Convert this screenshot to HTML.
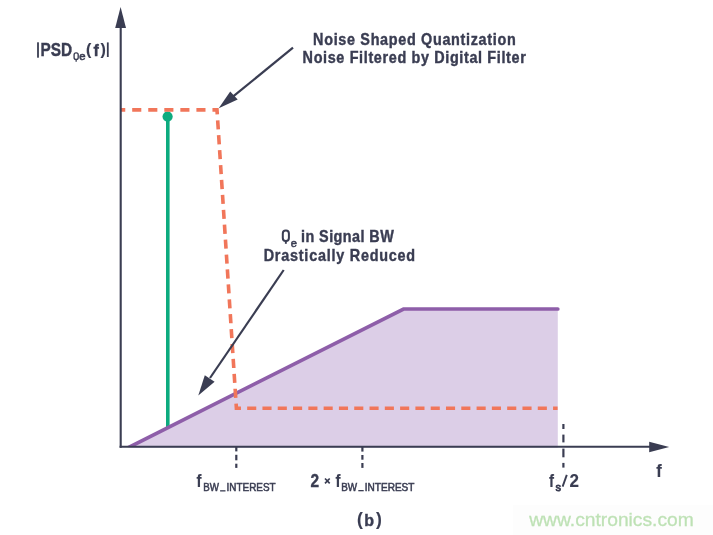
<!DOCTYPE html>
<html>
<head>
<meta charset="utf-8">
<style>
html,body{margin:0;padding:0;background:#fff;width:713px;height:535px;overflow:hidden}
svg{display:block;will-change:transform}
text{font-family:"Liberation Sans",sans-serif;fill:#3a3d52}
</style>
</head>
<body>
<svg width="713" height="535" viewBox="0 0 713 535">
<defs><clipPath id="cl"><rect x="0" y="0" width="713" height="446"/></clipPath></defs>
<!-- watermark box -->
<rect x="513" y="505" width="200" height="30" fill="#fdfdfd"/>
<!-- purple fill -->
<path d="M127.5,447.8 L403.5,309 L557.8,309 L557.8,447.8 Z" fill="#dccee7"/>
<!-- green stem -->
<line x1="167.8" y1="117" x2="167.8" y2="427.5" stroke="#0dab7f" stroke-width="3.6"/>
<!-- purple line -->
<path d="M126.74,448.4 L403.5,309 L557.8,309" fill="none" stroke="#8e5ea9" stroke-width="3.7" stroke-linejoin="miter" stroke-linecap="round" clip-path="url(#cl)"/>
<circle cx="167.6" cy="116.6" r="5.1" fill="#0dab7f"/>
<!-- orange dashed -->
<path d="M120.7,109.9 L217,109.9 L236.4,408.2 L557.6,408.2" fill="none" stroke="#f1765a" stroke-width="3.6" stroke-dasharray="4.550 6.950 9.100 6.950 9.100 6.950 9.100 6.950 9.100 6.950 9.100 6.950 9.100 5.847 9.100 5.847 9.100 5.847 9.100 5.847 9.100 5.847 9.100 5.847 9.100 5.847 9.100 5.847 9.100 5.847 9.100 5.847 9.100 5.847 9.100 5.847 9.100 5.847 9.100 5.847 9.100 5.847 9.100 5.847 9.100 5.847 9.100 5.847 9.100 5.847 9.100 5.847 9.100 6.195 9.100 6.195 9.100 6.195 9.100 6.195 9.100 6.195 9.100 6.195 9.100 6.195 9.100 6.195 9.100 6.195 9.100 6.195 9.100 6.195 9.100 6.195 9.100 6.195 9.100 6.195 9.100 6.195 9.100 6.195 9.100 6.195 9.100 6.195 9.100 6.195 9.100 6.195 9.100 6.195 4.550 1000.000" stroke-linejoin="miter"/>
<!-- axes -->
<line x1="120.7" y1="26" x2="120.7" y2="447.8" stroke="#3a3d52" stroke-width="2.1"/>
<path d="M120.6,7 L126,28 L115.2,28 Z" fill="#3a3d52"/>
<line x1="119.6" y1="446.8" x2="651" y2="446.8" stroke="#3a3d52" stroke-width="2.1"/>
<path d="M669.2,447 L649.2,452.3 L649.2,441.7 Z" fill="#3a3d52"/>
<!-- ticks -->
<g stroke="#3a3d52" stroke-width="2.2">
<line x1="236.3" y1="447" x2="236.3" y2="451.4"/>
<line x1="236.3" y1="454.8" x2="236.3" y2="460.3"/>
<line x1="236.3" y1="463.7" x2="236.3" y2="467.9"/>
<line x1="362.4" y1="447" x2="362.4" y2="451.6"/>
<line x1="362.4" y1="455" x2="362.4" y2="459.7"/>
<line x1="362.4" y1="463" x2="362.4" y2="467.9"/>
<line x1="563.4" y1="424" x2="563.4" y2="429"/>
<line x1="563.4" y1="434.6" x2="563.4" y2="442.4"/>
<line x1="563.4" y1="448.6" x2="563.4" y2="457.3"/>
<line x1="563.4" y1="462.9" x2="563.4" y2="467.6"/>
</g>
<!-- annotation arrows -->
<line x1="293" y1="47.7" x2="232" y2="97.4" stroke="#3a3d52" stroke-width="2.2"/>
<path d="M218.7,108.2 L230.2,91.5 L237.7,99.6 Z" fill="#3a3d52"/>
<line x1="283.7" y1="270" x2="210" y2="378" stroke="#3a3d52" stroke-width="2.2"/>
<path d="M198.3,395.4 L204.8,375.2 L214.6,381.7 Z" fill="#3a3d52"/>
<!-- texts -->
<g font-weight="bold" font-size="16" style="stroke:#3a3d52;stroke-width:0.4">
<text transform="translate(313.1,44.8) scale(0.9,1)" textLength="225.11" lengthAdjust="spacing">Noise Shaped Quantization</text>
<text transform="translate(302.6,62.9) scale(0.9,1)" textLength="248.00" lengthAdjust="spacing">Noise Filtered by Digital Filter</text>
<text transform="translate(301,241.9) scale(0.9,1)" textLength="103.1" lengthAdjust="spacing">in Signal BW</text>
<text transform="translate(263.7,260.6) scale(0.9,1)" textLength="168.3" lengthAdjust="spacing">Drastically Reduced</text>
<text x="40.6" y="56" font-size="18" textLength="31.6" lengthAdjust="spacingAndGlyphs">PSD</text>
<text x="93.5" y="55.9">f</text>
<text x="364.2" y="525.6">b</text>
</g>
<g font-weight="bold" font-size="17.8" style="stroke:#3a3d52;stroke-width:0.15">
<text x="196.6" y="486.7" textLength="5" lengthAdjust="spacingAndGlyphs">f</text>
<text x="310.6" y="486.7" textLength="8.6" lengthAdjust="spacingAndGlyphs" style="stroke-width:0.4">2</text>
<text x="335.6" y="486.7" textLength="5" lengthAdjust="spacingAndGlyphs">f</text>
<text x="549" y="486.7" textLength="5" lengthAdjust="spacingAndGlyphs">f</text>
<text x="569.4" y="486.7" textLength="9.47" lengthAdjust="spacingAndGlyphs">2</text>
<text x="656.3" y="476.7" textLength="5.5" lengthAdjust="spacingAndGlyphs">f</text>
</g>
<g fill="none" stroke="#3a3d52">
<rect x="37.1" y="42.3" width="1.8" height="15.4" fill="#3a3d52" stroke="none"/>
<rect x="106.9" y="42.4" width="1.8" height="14.6" fill="#3a3d52" stroke="none"/>
<!-- Q in Qe label -->
<rect x="282.8" y="230.6" width="6.1" height="10.4" rx="2.9" stroke-width="2"/>
<line x1="285.85" y1="241" x2="285.85" y2="243.8" stroke-width="1.9"/>
<!-- Q in PSD subscript -->
<rect x="74.1" y="52.8" width="4.1" height="6.6" rx="1.9" stroke-width="1.35"/>
<line x1="76.15" y1="59.4" x2="76.15" y2="61.7" stroke-width="1.3"/>
<line x1="562.6" y1="486.6" x2="566.8" y2="474.9" stroke-width="1.9"/>
<!-- multiplication sign -->
<path d="M325,478.5 L329.7,483.3 M329.7,478.5 L325,483.3" stroke-width="1.7"/>
</g>
<g font-size="11" style="stroke:#3a3d52;stroke-width:0.55">
<text x="290.8" y="246.9" textLength="6.2" lengthAdjust="spacingAndGlyphs">e</text>
<text x="79.3" y="60.3" font-size="10" textLength="6.3" lengthAdjust="spacingAndGlyphs">e</text>
<text x="203.3" y="491.4" textLength="15.7" lengthAdjust="spacingAndGlyphs">BW</text>
<text x="226.6" y="491.4" textLength="49" lengthAdjust="spacingAndGlyphs">INTEREST</text>
<text x="341.2" y="491.2" textLength="15.9" lengthAdjust="spacingAndGlyphs">BW</text>
<text x="364.8" y="491.2" textLength="49.6" lengthAdjust="spacingAndGlyphs">INTEREST</text>
<text x="555.4" y="491.1" textLength="5.5" lengthAdjust="spacingAndGlyphs" style="stroke-width:0.8">s</text>
</g>
<g font-weight="bold" style="stroke:#3a3d52;stroke-width:0.15">
<text x="86" y="54.8" font-size="16">(</text>
<text x="100.6" y="54.8" font-size="16">)</text>
<text x="357" y="524.5" font-size="17.5">(</text>
<text x="375.9" y="524.5" font-size="17.5">)</text>
</g>
<rect x="220.1" y="490.2" width="5.4" height="1.3" fill="#3a3d52"/>
<rect x="358.3" y="490" width="5.4" height="1.3" fill="#3a3d52"/>
<text x="529.2" y="525.7" font-size="19" textLength="164.6" lengthAdjust="spacingAndGlyphs" style="fill:#bde1b4;stroke:#c3e4bb;stroke-width:0.3">www.cntronics.com</text>
</svg>
</body>
</html>
